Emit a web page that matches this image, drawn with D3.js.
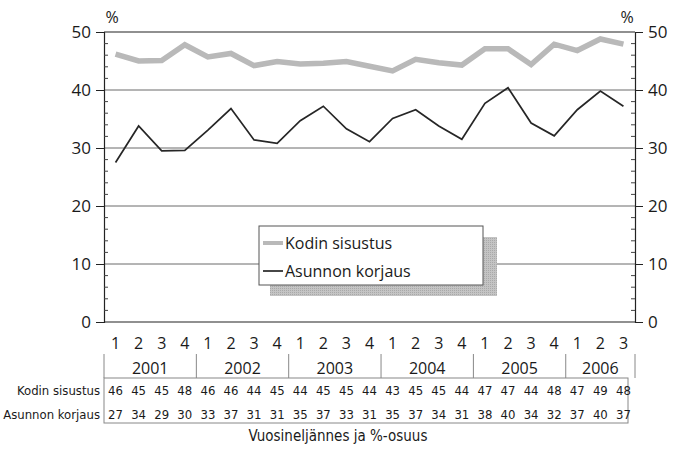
<!DOCTYPE html>
<html><head><meta charset="utf-8">
<script src="https://cdn.jsdelivr.net/npm/d3@7"></script>
<style>
body{margin:0;background:#fff;}
svg{display:block;}
text{fill:#1a1a1a;}
</style></head>
<body><svg id="c" width="681" height="453"></svg>
<script>
const years = ["2001","2002","2003","2004","2005","2006"];
const quarters = ["1","2","3","4","1","2","3","4","1","2","3","4","1","2","3","4","1","2","3","4","1","2","3"];
const seriesNames = ["Kodin sisustus","Asunnon korjaus"];
const kodinSisustus = [46.2,45.0,45.1,47.8,45.7,46.3,44.2,44.9,44.5,44.6,44.9,44.1,43.3,45.3,44.7,44.3,47.1,47.1,44.4,47.9,46.8,48.8,47.9];
const asunnonKorjaus = [27.5,33.8,29.5,29.6,33.1,36.8,31.4,30.8,34.7,37.2,33.3,31.1,35.1,36.6,33.8,31.5,37.7,40.4,34.3,32.1,36.6,39.8,37.2];
const tableKodin = [46,45,45,48,46,46,44,45,44,45,45,44,43,45,45,44,47,47,44,48,47,49,48];
const tableAsunnon = [27,34,29,30,33,37,31,31,35,37,33,31,35,37,34,31,38,40,34,32,37,40,37];
const yTicks = [0,10,20,30,40,50];
const xTitle = "Vuosineljännes ja %-osuus";

const svg = d3.select("#c");
const L = 104, R = 635, T = 32, B = 322;
const idx = d3.range(quarters.length);
const x = d3.scaleBand().domain(idx).range([L, R]).paddingInner(0).paddingOuter(0);
const cx = i => x(i) + x.bandwidth()/2;
const y = d3.scaleLinear().domain([0,50]).range([B, T]);
const numFont = "'Open Sans', 'Noto Sans', sans-serif";
const narrow = "'Liberation Sans Narrow', 'DejaVu Sans Condensed', 'Open Sans', sans-serif";

// gridlines
svg.append("g").selectAll("line").data(yTicks.filter(d => d > 0 && d < 50)).join("line")
  .attr("x1", L).attr("x2", R).attr("y1", d => y(d)).attr("y2", d => y(d))
  .attr("stroke", "#6a6a6a").attr("stroke-width", 1);

// left axis
const minor = d3.range(0, 51, 2).filter(d => d % 10 !== 0);
const gl = svg.append("g").attr("transform", `translate(${L},0)`)
  .call(d3.axisLeft(y).tickValues(yTicks).tickSize(8).tickPadding(5));
gl.select(".domain").attr("stroke", "#222").attr("stroke-width", 1.2);
gl.selectAll(".tick line").attr("stroke", "#222");
gl.selectAll("text").attr("font-family", numFont).attr("font-size", 17).attr("fill", "#1a1a1a");
gl.append("g").selectAll("line").data(minor).join("line")
  .attr("x1", 0).attr("x2", 4).attr("y1", d => y(d)).attr("y2", d => y(d)).attr("stroke", "#444");

// right axis
const gr = svg.append("g").attr("transform", `translate(${R},0)`)
  .call(d3.axisRight(y).tickValues(yTicks).tickSize(8).tickPadding(5));
gr.select(".domain").attr("stroke", "#222").attr("stroke-width", 1.2);
gr.selectAll(".tick line").attr("stroke", "#222");
gr.selectAll("text").attr("font-family", numFont).attr("font-size", 17).attr("fill", "#1a1a1a");
gr.append("g").selectAll("line").data(minor).join("line")
  .attr("x1", -4).attr("x2", 0).attr("y1", d => y(d)).attr("y2", d => y(d)).attr("stroke", "#444");

// top and bottom frame
svg.append("line").attr("x1", L).attr("x2", R).attr("y1", y(50)).attr("y2", y(50)).attr("stroke", "#222").attr("stroke-width", 1.2);
svg.append("line").attr("x1", L).attr("x2", R).attr("y1", y(0)).attr("y2", y(0)).attr("stroke", "#222").attr("stroke-width", 1.2);

// % labels
svg.append("text").attr("x", L + 8).attr("y", 23).attr("font-family", numFont).attr("font-size", 16).attr("text-anchor", "middle").text("%");
svg.append("text").attr("x", R - 8).attr("y", 23).attr("font-family", numFont).attr("font-size", 16).attr("text-anchor", "middle").text("%");

// pattern for the gray series
const defs = svg.append("defs");
const pat = defs.append("pattern").attr("id", "dots").attr("width", 2).attr("height", 2).attr("patternUnits", "userSpaceOnUse");
pat.append("rect").attr("width", 2).attr("height", 2).attr("fill", "#c4c4c4");
pat.append("rect").attr("width", 1).attr("height", 1).attr("fill", "#a9a9a9");

// lines
const line = d3.line().x((d, i) => cx(i)).y(d => y(d));
svg.append("path").datum(kodinSisustus).attr("d", line).attr("fill", "none")
  .attr("stroke", "#b9b9b9").attr("stroke-width", 5.5).attr("stroke-linejoin", "miter");
svg.append("path").datum(asunnonKorjaus).attr("d", line).attr("fill", "none")
  .attr("stroke", "#262626").attr("stroke-width", 1.7);

// legend
const lg = svg.append("g");
lg.append("rect").attr("x", 270).attr("y", 237).attr("width", 227).attr("height", 59).attr("fill", "url(#dots)");
lg.append("rect").attr("x", 259).attr("y", 226).attr("width", 224).attr("height", 59).attr("fill", "#fff").attr("stroke", "#555").attr("stroke-width", 1);
lg.append("line").attr("x1", 263).attr("x2", 283).attr("y1", 243).attr("y2", 243).attr("stroke", "#b9b9b9").attr("stroke-width", 4);
lg.append("line").attr("x1", 263).attr("x2", 283).attr("y1", 271).attr("y2", 271).attr("stroke", "#262626").attr("stroke-width", 1.7);
lg.append("text").attr("x", 285).attr("y", 249).attr("font-family", numFont).attr("font-size", 16).text(seriesNames[0]);
lg.append("text").attr("x", 285).attr("y", 277).attr("font-family", numFont).attr("font-size", 16).text(seriesNames[1]);

// quarter labels
svg.append("g").selectAll("text").data(quarters).join("text")
  .attr("x", (d, i) => cx(i)).attr("y", 349).attr("text-anchor", "middle")
  .attr("font-family", numFont).attr("font-size", 16).text(d => d);

// year labels and separators
let start = 0;
const yearSpans = years.map((yr, k) => {
  let n = 0; while (start + n < quarters.length && (n === 0 || quarters[start + n] !== "1")) n++;
  const s = { yr, a: start, b: start + n - 1 }; start += n; return s;
});
const yg = svg.append("g");
yg.selectAll("text").data(yearSpans).join("text")
  .attr("x", d => (x(d.a) + x(d.b) + x.bandwidth()) / 2).attr("y", 374).attr("text-anchor", "middle")
  .attr("font-family", numFont).attr("font-size", 16).text(d => d.yr);
const seps = [x(0)].concat(yearSpans.map(d => x(d.b) + x.bandwidth()));
yg.selectAll("line").data(seps).join("line")
  .attr("x1", d => d).attr("x2", d => d).attr("y1", 354).attr("y2", 378).attr("stroke", "#888");

// table
const tg = svg.append("g");
tg.append("rect").attr("x", L).attr("y", 378).attr("width", x(quarters.length - 1) + x.bandwidth() - 7 - L).attr("height", 45)
  .attr("fill", "none").attr("stroke", "#888");
[[seriesNames[0], tableKodin, 395], [seriesNames[1], tableAsunnon, 419]].forEach(([nm, vals, yy]) => {
  tg.append("text").attr("x", 100).attr("y", yy).attr("text-anchor", "end")
    .attr("font-family", narrow).attr("font-size", 13).text(nm);
  tg.append("g").selectAll("text").data(vals).join("text")
    .attr("x", (d, i) => cx(i)).attr("y", yy).attr("text-anchor", "middle")
    .attr("font-family", narrow).attr("font-size", 13).text(d => d);
});

svg.append("text").attr("x", 338).attr("y", 441).attr("text-anchor", "middle")
  .attr("font-family", narrow).attr("font-size", 15).text(xTitle);
</script></body></html>
